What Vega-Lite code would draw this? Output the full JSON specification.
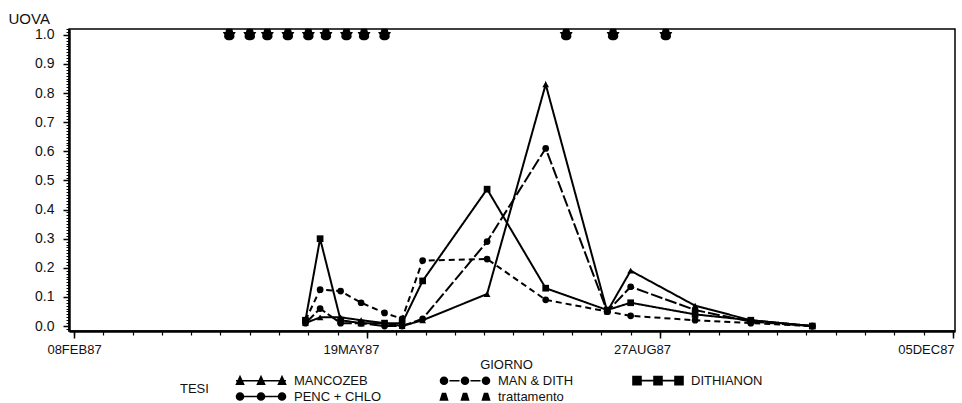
{
  "$schema": "https://vega.github.io/schema/vega-lite/v6.json",
  "width": 886,
  "height": 302,
  "autosize": {"type": "none"},
  "padding": {"left": 69, "top": 29, "right": 7, "bottom": 72},
  "background": "white",
  "config": {
    "font": "Liberation Sans",
    "view": {"stroke": "black", "strokeWidth": 1.5},
    "axis": {"grid": false, "domainColor": "black", "tickColor": "black", "labelColor": "#111", "titleColor": "#111", "labelFont": "Liberation Sans", "titleFont": "Liberation Sans", "titleFontWeight": "normal"}
  },
  "data": {
    "values": [
      {"data": "1987-04-28", "serie": "MANCOZEB", "valore": 0.01},
      {"data": "1987-05-03", "serie": "MANCOZEB", "valore": 0.03},
      {"data": "1987-05-10", "serie": "MANCOZEB", "valore": 0.03},
      {"data": "1987-05-17", "serie": "MANCOZEB", "valore": 0.02},
      {"data": "1987-05-25", "serie": "MANCOZEB", "valore": 0.01},
      {"data": "1987-05-31", "serie": "MANCOZEB", "valore": 0.0},
      {"data": "1987-06-07", "serie": "MANCOZEB", "valore": 0.02},
      {"data": "1987-06-29", "serie": "MANCOZEB", "valore": 0.11},
      {"data": "1987-07-19", "serie": "MANCOZEB", "valore": 0.83},
      {"data": "1987-08-09", "serie": "MANCOZEB", "valore": 0.05},
      {"data": "1987-08-17", "serie": "MANCOZEB", "valore": 0.19},
      {"data": "1987-09-08", "serie": "MANCOZEB", "valore": 0.07},
      {"data": "1987-09-27", "serie": "MANCOZEB", "valore": 0.02},
      {"data": "1987-10-18", "serie": "MANCOZEB", "valore": 0.0},
      {"data": "1987-04-28", "serie": "PENC + CHLO", "valore": 0.01},
      {"data": "1987-05-03", "serie": "PENC + CHLO", "valore": 0.06},
      {"data": "1987-05-10", "serie": "PENC + CHLO", "valore": 0.01},
      {"data": "1987-05-17", "serie": "PENC + CHLO", "valore": 0.01},
      {"data": "1987-05-25", "serie": "PENC + CHLO", "valore": 0.0},
      {"data": "1987-05-31", "serie": "PENC + CHLO", "valore": 0.0},
      {"data": "1987-06-07", "serie": "PENC + CHLO", "valore": 0.025},
      {"data": "1987-06-29", "serie": "PENC + CHLO", "valore": 0.29},
      {"data": "1987-07-19", "serie": "PENC + CHLO", "valore": 0.61},
      {"data": "1987-08-09", "serie": "PENC + CHLO", "valore": 0.05},
      {"data": "1987-08-17", "serie": "PENC + CHLO", "valore": 0.135},
      {"data": "1987-09-08", "serie": "PENC + CHLO", "valore": 0.055},
      {"data": "1987-09-27", "serie": "PENC + CHLO", "valore": 0.015},
      {"data": "1987-10-18", "serie": "PENC + CHLO", "valore": 0.0},
      {"data": "1987-04-28", "serie": "MAN & DITH", "valore": 0.02},
      {"data": "1987-05-03", "serie": "MAN & DITH", "valore": 0.125},
      {"data": "1987-05-10", "serie": "MAN & DITH", "valore": 0.12},
      {"data": "1987-05-17", "serie": "MAN & DITH", "valore": 0.08},
      {"data": "1987-05-25", "serie": "MAN & DITH", "valore": 0.045},
      {"data": "1987-05-31", "serie": "MAN & DITH", "valore": 0.025},
      {"data": "1987-06-07", "serie": "MAN & DITH", "valore": 0.225},
      {"data": "1987-06-29", "serie": "MAN & DITH", "valore": 0.23},
      {"data": "1987-07-19", "serie": "MAN & DITH", "valore": 0.09},
      {"data": "1987-08-09", "serie": "MAN & DITH", "valore": 0.05},
      {"data": "1987-08-17", "serie": "MAN & DITH", "valore": 0.035},
      {"data": "1987-09-08", "serie": "MAN & DITH", "valore": 0.02},
      {"data": "1987-09-27", "serie": "MAN & DITH", "valore": 0.01},
      {"data": "1987-10-18", "serie": "MAN & DITH", "valore": 0.0},
      {"data": "1987-04-28", "serie": "DITHIANON", "valore": 0.02},
      {"data": "1987-05-03", "serie": "DITHIANON", "valore": 0.3},
      {"data": "1987-05-10", "serie": "DITHIANON", "valore": 0.02},
      {"data": "1987-05-17", "serie": "DITHIANON", "valore": 0.01},
      {"data": "1987-05-25", "serie": "DITHIANON", "valore": 0.01},
      {"data": "1987-05-31", "serie": "DITHIANON", "valore": 0.01},
      {"data": "1987-06-07", "serie": "DITHIANON", "valore": 0.155},
      {"data": "1987-06-29", "serie": "DITHIANON", "valore": 0.47},
      {"data": "1987-07-19", "serie": "DITHIANON", "valore": 0.13},
      {"data": "1987-08-09", "serie": "DITHIANON", "valore": 0.055},
      {"data": "1987-08-17", "serie": "DITHIANON", "valore": 0.08},
      {"data": "1987-09-08", "serie": "DITHIANON", "valore": 0.04},
      {"data": "1987-09-27", "serie": "DITHIANON", "valore": 0.02},
      {"data": "1987-10-18", "serie": "DITHIANON", "valore": 0.0},
      {"data": "1987-04-02", "serie": "trattamento", "valore": 1.0},
      {"data": "1987-04-09", "serie": "trattamento", "valore": 1.0},
      {"data": "1987-04-15", "serie": "trattamento", "valore": 1.0},
      {"data": "1987-04-22", "serie": "trattamento", "valore": 1.0},
      {"data": "1987-04-29", "serie": "trattamento", "valore": 1.0},
      {"data": "1987-05-05", "serie": "trattamento", "valore": 1.0},
      {"data": "1987-05-12", "serie": "trattamento", "valore": 1.0},
      {"data": "1987-05-18", "serie": "trattamento", "valore": 1.0},
      {"data": "1987-05-25", "serie": "trattamento", "valore": 1.0},
      {"data": "1987-07-26", "serie": "trattamento", "valore": 1.0},
      {"data": "1987-08-11", "serie": "trattamento", "valore": 1.0},
      {"data": "1987-08-29", "serie": "trattamento", "valore": 1.0}
    ]
  },
  "layer": [
    {
      "transform": [{"filter": "datum.serie != 'trattamento'"}],
      "mark": {"type": "line", "color": "black", "strokeWidth": 2},
      "encoding": {
        "x": {
          "field": "data", "type": "temporal",
          "scale": {"type": "utc", "domain": [{"year": 1987, "month": 2, "date": 6, "hours": 7, "utc": true}, {"year": 1987, "month": 12, "date": 5, "hours": 17, "utc": true}]},
          "axis": {
            "orient": "bottom",
            "values": [{"year": 1987, "month": 2, "date": 8, "utc": true}, {"year": 1987, "month": 5, "date": 19, "utc": true}, {"year": 1987, "month": 8, "date": 27, "utc": true}, {"year": 1987, "month": 12, "date": 5, "utc": true}],
            "labelExpr": "upper(utcFormat(datum.value, '%d%b%y'))",
            "labelFontSize": 13, "labelPadding": 5, "labelFlush": false, "labelOverlap": false,
            "labelOffset": {"condition": [{"test": "utcmonth(datum.value) == 1", "value": 0}, {"test": "utcmonth(datum.value) == 4", "value": -16}, {"test": "utcmonth(datum.value) == 7", "value": -18}], "value": -27},
            "tickSize": 7, "tickWidth": 1.5, "domainWidth": 2.5,
            "title": "GIORNO", "titleFontSize": 13, "titleX": 437, "titleY": 33, "titleBaseline": "middle"
          }
        },
        "y": {
          "field": "valore", "type": "quantitative",
          "scale": {"domain": [-0.017, 1.02], "nice": false, "zero": false},
          "axis": {
            "orient": "left",
            "values": [0, 0.1, 0.2, 0.3, 0.4, 0.5, 0.6, 0.7, 0.8, 0.9, 1.0],
            "format": ".1f", "labelFontSize": 14, "labelPadding": 9, "tickSize": 6, "tickWidth": 1.5, "domainWidth": 2.5,
            "title": "UOVA", "titleAngle": 0, "titleX": -61, "titleY": -6, "titleAlign": "left", "titleBaseline": "alphabetic", "titleFontSize": 15
          }
        },
        "strokeDash": {
          "field": "serie", "type": "nominal",
          "scale": {"domain": ["MANCOZEB", "PENC + CHLO", "MAN & DITH", "DITHIANON"], "range": [[1, 0], [12, 3], [6, 4], [1, 0]]},
          "legend": null
        }
      }
    },
    {
      "transform": [{"filter": "datum.serie != 'trattamento'"}],
      "mark": {"type": "point", "filled": true, "color": "black", "opacity": 1, "size": 45},
      "encoding": {
        "x": {"field": "data", "type": "temporal", "scale": {"type": "utc", "domain": [{"year": 1987, "month": 2, "date": 6, "hours": 7, "utc": true}, {"year": 1987, "month": 12, "date": 5, "hours": 17, "utc": true}]}, "axis": null},
        "y": {"field": "valore", "type": "quantitative", "scale": {"domain": [-0.017, 1.02], "nice": false, "zero": false}, "axis": null},
        "shape": {
          "field": "serie", "type": "nominal",
          "scale": {"domain": ["MANCOZEB", "PENC + CHLO", "MAN & DITH", "DITHIANON"], "range": ["triangle-up", "circle", "circle", "square"]},
          "legend": null
        }
      }
    },
    {
      "transform": [{"filter": "datum.serie == 'trattamento'"}],
      "mark": {"type": "point", "filled": true, "color": "black", "opacity": 1, "size": 169, "shape": "M-0.45,-0.95L0.45,-0.95L0.6,-0.45L1,-0.45L0.75,0C0.95,0.55 0.5,0.85 0,0.85C-0.5,0.85 -0.95,0.55 -0.75,0L-1,-0.45L-0.6,-0.45Z"},
      "encoding": {
        "x": {"field": "data", "type": "temporal", "scale": {"type": "utc", "domain": [{"year": 1987, "month": 2, "date": 6, "hours": 7, "utc": true}, {"year": 1987, "month": 12, "date": 5, "hours": 17, "utc": true}]}, "axis": null},
        "y": {"field": "valore", "type": "quantitative", "scale": {"domain": [-0.017, 1.02], "nice": false, "zero": false}, "axis": null}
      }
    },
    {
      "transform": [{"filter": "false"}],
      "mark": {"type": "point", "filled": true, "fill": "black", "stroke": "black", "strokeWidth": 1.6, "opacity": 1, "size": 100},
      "encoding": {
        "x": {
          "field": "data", "type": "temporal",
          "scale": {"type": "utc", "domain": [{"year": 1987, "month": 2, "date": 6, "hours": 7, "utc": true}, {"year": 1987, "month": 12, "date": 5, "hours": 17, "utc": true}]},
          "axis": {
            "orient": "bottom", "domain": false, "labels": false, "title": null, "tickSize": 4, "tickWidth": 1.2,
            "values": [
              {"year": 1987, "month": 2, "date": 8, "utc": true}, {"year": 1987, "month": 2, "date": 18, "utc": true}, {"year": 1987, "month": 2, "date": 28, "utc": true},
              {"year": 1987, "month": 3, "date": 10, "utc": true}, {"year": 1987, "month": 3, "date": 20, "utc": true}, {"year": 1987, "month": 3, "date": 30, "utc": true},
              {"year": 1987, "month": 4, "date": 9, "utc": true}, {"year": 1987, "month": 4, "date": 19, "utc": true}, {"year": 1987, "month": 4, "date": 29, "utc": true},
              {"year": 1987, "month": 5, "date": 9, "utc": true}, {"year": 1987, "month": 5, "date": 19, "utc": true}, {"year": 1987, "month": 5, "date": 29, "utc": true},
              {"year": 1987, "month": 6, "date": 8, "utc": true}, {"year": 1987, "month": 6, "date": 18, "utc": true}, {"year": 1987, "month": 6, "date": 28, "utc": true},
              {"year": 1987, "month": 7, "date": 8, "utc": true}, {"year": 1987, "month": 7, "date": 18, "utc": true}, {"year": 1987, "month": 7, "date": 28, "utc": true},
              {"year": 1987, "month": 8, "date": 7, "utc": true}, {"year": 1987, "month": 8, "date": 17, "utc": true}, {"year": 1987, "month": 8, "date": 27, "utc": true},
              {"year": 1987, "month": 9, "date": 6, "utc": true}, {"year": 1987, "month": 9, "date": 16, "utc": true}, {"year": 1987, "month": 9, "date": 26, "utc": true},
              {"year": 1987, "month": 10, "date": 6, "utc": true}, {"year": 1987, "month": 10, "date": 16, "utc": true}, {"year": 1987, "month": 10, "date": 26, "utc": true},
              {"year": 1987, "month": 11, "date": 5, "utc": true}, {"year": 1987, "month": 11, "date": 15, "utc": true}, {"year": 1987, "month": 11, "date": 25, "utc": true},
              {"year": 1987, "month": 12, "date": 5, "utc": true}
            ]
          }
        },
        "y": {
          "field": "valore", "type": "quantitative",
          "scale": {"domain": [-0.017, 1.02], "nice": false, "zero": false},
          "axis": {"orient": "left", "domain": false, "labels": false, "title": null, "tickSize": 3, "tickWidth": 1, "tickCount": 100}
        },
        "shape": {
          "field": "serie", "type": "nominal",
          "scale": {
            "domain": ["MANCOZEB", "PENC + CHLO", "MAN & DITH", "trattamento", "DITHIANON"],
            "range": [
              "M-5,0H5M-4.9,0.7L-4.2,-0.8L-3.5,0.7ZM-0.7,0.7L0,-0.8L0.7,0.7ZM3.5,0.7L4.2,-0.8L4.9,0.7Z",
              "M-5,0H5M-4.9,0a0.7,0.7 0 1,0 1.4,0a0.7,0.7 0 1,0 -1.4,0ZM-0.7,0a0.7,0.7 0 1,0 1.4,0a0.7,0.7 0 1,0 -1.4,0ZM3.5,0a0.7,0.7 0 1,0 1.4,0a0.7,0.7 0 1,0 -1.4,0Z",
              "M-3.1,0H-1.1M1.1,0H3.1M-4.9,0a0.7,0.7 0 1,0 1.4,0a0.7,0.7 0 1,0 -1.4,0ZM-0.7,0a0.7,0.7 0 1,0 1.4,0a0.7,0.7 0 1,0 -1.4,0ZM3.5,0a0.7,0.7 0 1,0 1.4,0a0.7,0.7 0 1,0 -1.4,0Z",
              "M-4.9,0.7L-4.5,-0.6L-3.9,-0.6L-3.5,0.7ZM-0.7,0.7L-0.3,-0.6L0.3,-0.6L0.7,0.7ZM3.5,0.7L3.9,-0.6L4.5,-0.6L4.9,0.7Z",
              "M-5,0H5M-5,-0.8h1.6v1.6h-1.6ZM-0.8,-0.8h1.6v1.6h-1.6ZM3.4,-0.8h1.6v1.6h-1.6Z"
            ]
          },
          "legend": {
            "orient": "none", "legendX": 111, "legendY": 345, "padding": 0,
            "title": "TESI", "titleOrient": "left", "titleAnchor": "middle", "titleBaseline": "middle",
            "titleFontSize": 13, "titleFontWeight": "normal", "titleColor": "#111", "titlePadding": 27,
            "columns": 3, "columnPadding": 55, "rowPadding": 1,
            "symbolSize": 100, "symbolOffset": 18.5, "labelOffset": 26.5, "symbolStrokeWidth": 1.6,
            "labelFontSize": 13, "labelColor": "#111"
          }
        }
      }
    }
  ],
  "resolve": {
    "scale": {"shape": "independent"},
    "axis": {"x": "independent", "y": "independent"}
  }
}
